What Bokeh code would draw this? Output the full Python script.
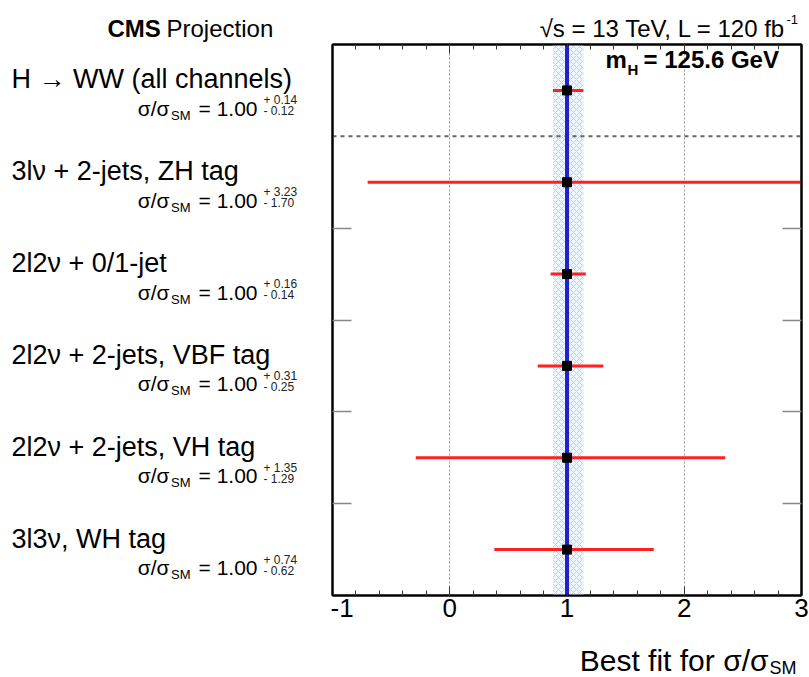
from bokeh.plotting import figure
from bokeh.models import (LinearAxis, SingleIntervalTicker, FixedTicker, CustomJSTickFormatter,
                          Range1d, Label, Grid, ColumnDataSource)
from bokeh.layouts import column, row
from bokeh.core.properties import value
from bokeh.embed import file_html
from bokeh.resources import INLINE

# ---------------- data ----------------
channels = ["H \u2192 WW (all channels)",
            "3l\u03bd + 2-jets, ZH tag",
            "2l2\u03bd + 0/1-jet",
            "2l2\u03bd + 2-jets, VBF tag",
            "2l2\u03bd + 2-jets, VH tag",
            "3l3\u03bd, WH tag"]
best_fit = [1.00, 1.00, 1.00, 1.00, 1.00, 1.00]
err_up = [0.14, 3.23, 0.16, 0.31, 1.35, 0.74]
err_down = [0.12, 1.70, 0.14, 0.25, 1.29, 0.62]
sm_value = 1.0
x_ticks = [-1, 0, 1, 2, 3]
row_boundaries = [1, 2, 3, 4]
combined_separator = 5

n = len(channels)
ypos = [n - i - 0.5 for i in range(n)]
lo = [b - d for b, d in zip(best_fit, err_down)]
hi = [b + u for b, u in zip(best_fit, err_up)]

FONT = "Liberation Sans"
W, H = 809, 677
TOP_H, LEFT_W = 43, 330
MAIN_W = W - LEFT_W
MAIN_H = 585
BOT_H = H - TOP_H - MAIN_H

yr = Range1d(0, n)


def blank(fig):
    fig.outline_line_color = None
    fig.background_fill_color = "white"
    fig.border_fill_color = "white"
    fig.grid.visible = False
    return fig


# ---------------- main plot ----------------
p = figure(width=MAIN_W, height=MAIN_H, x_range=Range1d(x_ticks[0], x_ticks[-1]), y_range=yr,
           output_backend="svg", toolbar_location=None,
           x_axis_location=None, y_axis_location=None, min_border=0,
           min_border_left=2, min_border_right=8, min_border_top=1, min_border_bottom=33)
p.grid.visible = False
p.outline_line_color = "black"
p.outline_line_width = 2
p.background_fill_color = "white"
p.border_fill_color = "white"


def xaxis(labels):
    ax = LinearAxis(ticker=SingleIntervalTicker(interval=1, num_minor_ticks=5))
    ax.axis_line_width = 2
    ax.major_tick_in = 9
    ax.major_tick_out = 0
    ax.minor_tick_in = 5
    ax.minor_tick_out = 0
    ax.major_tick_line_color = "#333333"
    ax.minor_tick_line_color = "#333333"
    if labels:
        ax.formatter = CustomJSTickFormatter(code="return tick.toFixed(0)")
        ax.major_label_text_font = FONT
        ax.major_label_text_font_size = "26px"
        ax.major_label_text_color = "black"
        ax.major_label_standoff = 3
    else:
        ax.formatter = CustomJSTickFormatter(code="return ''")
        ax.major_label_standoff = 0
        ax.major_label_text_font_size = "1px"
    return ax


p.add_layout(xaxis(True), "below")
p.add_layout(xaxis(False), "above")


def yaxis():
    ax = LinearAxis(ticker=FixedTicker(ticks=row_boundaries))
    ax.axis_line_width = 2
    ax.major_tick_in = 19
    ax.major_tick_out = 0
    ax.minor_tick_line_color = None
    ax.major_tick_line_color = "#888888"
    ax.major_tick_line_width = 1.5
    ax.formatter = CustomJSTickFormatter(code="return ''")
    ax.major_label_standoff = 0
    ax.major_label_text_font_size = "1px"
    return ax


p.add_layout(yaxis(), "left")
p.add_layout(yaxis(), "right")

p.add_layout(Grid(dimension=0, ticker=FixedTicker(ticks=[0, 1, 2]),
                  grid_line_color="#999999", grid_line_dash="2 2", grid_line_width=1))

# band of the combined result, SM line, separator
p.quad(left=[lo[0]], right=[hi[0]], bottom=[0], top=[n],
       fill_color="#eef7ff", line_color=None,
       hatch_pattern="x", hatch_color="#a8d8f8", hatch_scale=6, hatch_weight=1)
p.segment(x0=[x_ticks[0]], x1=[x_ticks[-1]], y0=[combined_separator], y1=[combined_separator],
          line_color="#666666", line_width=2, line_dash="4 4")
p.segment(x0=[sm_value], x1=[sm_value], y0=[0], y1=[n], line_color="#2020cc", line_width=4)

src = ColumnDataSource(dict(y=ypos, x=best_fit, lo=lo, hi=hi))
p.segment(x0="lo", x1="hi", y0="y", y1="y", source=src, line_color="#ff2020", line_width=3)
p.scatter(x="x", y="y", source=src, marker="square", size=9, fill_color="black", line_color="black")

for txt, xo, yo, size in [("m", 273, -28, "24px"), ("H", 295, -33, "15px"),
                          ("= 125.6 GeV", 311, -28, "24px")]:
    p.add_layout(Label(x=x_ticks[0], y=n, x_offset=xo, y_offset=yo, text=txt,
                       text_font=FONT, text_font_size=size, text_font_style="bold",
                       text_color="black"))

# ---------------- left panel with channel labels ----------------
lp = blank(figure(width=LEFT_W, height=MAIN_H, x_range=Range1d(0, LEFT_W), y_range=yr,
                  output_backend="svg", toolbar_location=None,
                  x_axis_location=None, y_axis_location=None, min_border=0,
                  min_border_top=1, min_border_bottom=33))

lsrc = ColumnDataSource(dict(
    y=ypos, name=channels,
    sig=["\u03c3/\u03c3"] * n, sm=["SM"] * n,
    val=["= %.2f" % b for b in best_fit],
    up=["+ %.2f" % u for u in err_up],
    dn=["- %.2f" % d for d in err_down]))


def ltext(x, col, yo, size, align="left", color="black"):
    lp.text(x=x, y="y", text=col, source=lsrc, y_offset=yo, text_align=align,
            text_baseline="alphabetic", text_font=value(FONT), text_font_size=size,
            text_color=color)


ltext(11, "name", -11, "27px")
ltext(169, "sig", 18, "21px", align="right")
ltext(190, "sm", 25, "13px", align="right")
ltext(257, "val", 18, "21px", align="right")
ltext(263, "up", 10, "12px", color="#222222")
ltext(263, "dn", 21, "12px", color="#222222")

# ---------------- top strip ----------------
tp = blank(figure(width=W, height=TOP_H, x_range=Range1d(0, W), y_range=Range1d(TOP_H, 0),
                  output_backend="svg", toolbar_location=None,
                  x_axis_location=None, y_axis_location=None, min_border=0))
tp.text(x=[107], y=[28], text=["CMS"], text_font=value(FONT), text_font_size="24px",
        text_font_style="bold", text_baseline="alphabetic")
tp.text(x=[166], y=[28], text=["Projection"], text_font=value(FONT), text_font_size="24px",
        text_baseline="alphabetic")
tp.text(x=[785], y=[28], text=["\u221as = 13 TeV, L = 120 fb"], text_font=value(FONT),
        text_font_size="24px", text_align="right", text_baseline="alphabetic")
tp.text(x=[786], y=[19], text=["-1"], text_font=value(FONT), text_font_size="13px",
        text_baseline="alphabetic")

# ---------------- bottom strip (axis title) ----------------
bp = blank(figure(width=W, height=BOT_H, x_range=Range1d(0, W), y_range=Range1d(BOT_H, 0),
                  output_backend="svg", toolbar_location=None,
                  x_axis_location=None, y_axis_location=None, min_border=0))
bp.text(x=[768], y=[32], text=["Best fit for \u03c3/\u03c3"], text_font=value(FONT),
        text_font_size="30px", text_align="right", text_baseline="alphabetic")
bp.text(x=[769], y=[39], text=["SM"], text_font=value(FONT), text_font_size="18px",
        text_align="left", text_baseline="alphabetic")

layout = column(tp, row(lp, p), bp)
open("out.html", "w").write(file_html(layout, INLINE))
